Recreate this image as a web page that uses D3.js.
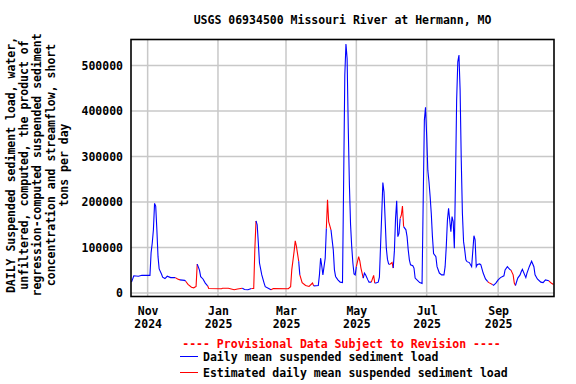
<!DOCTYPE html>
<html>
<head>
<meta charset="utf-8">
<script src="https://cdn.jsdelivr.net/npm/d3@7"></script>
<style>
  body { margin: 0; background: #fff; }
  text { font-family: "DejaVu Sans Mono", monospace; font-weight: bold; font-size: 11.5px; }
</style>
</head>
<body>
<div id="viz"></div>
<script>
// daily mean suspended sediment load, short tons per day
var dates = [
  "2024-10-18","2024-10-20","2024-10-24","2024-10-27","2024-11-03","2024-11-04","2024-11-05","2024-11-06",
  "2024-11-07","2024-11-08","2024-11-09","2024-11-10","2024-11-11","2024-11-13","2024-11-14","2024-11-16",
  "2024-11-18","2024-11-21","2024-11-25","2024-11-27","2024-11-29","2024-12-03","2024-12-04","2024-12-06",
  "2024-12-09","2024-12-11","2024-12-13","2024-12-14","2024-12-15","2024-12-16","2024-12-17","2024-12-19",
  "2024-12-21","2024-12-23","2024-12-24","2025-01-04","2025-01-05","2025-01-10","2025-01-15","2025-01-18",
  "2025-01-22","2025-01-23","2025-01-24","2025-01-27","2025-01-30","2025-02-01","2025-02-02","2025-02-03",
  "2025-02-04","2025-02-05","2025-02-06","2025-02-08","2025-02-10","2025-02-11","2025-02-14","2025-02-16",
  "2025-02-18","2025-03-03","2025-03-05","2025-03-06","2025-03-08","2025-03-09","2025-03-10","2025-03-12",
  "2025-03-13","2025-03-15","2025-03-18","2025-03-21","2025-03-24","2025-03-25","2025-03-29","2025-03-30",
  "2025-03-31","2025-04-01","2025-04-02","2025-04-04","2025-04-05","2025-04-06","2025-04-07","2025-04-09",
  "2025-04-10","2025-04-11","2025-04-12","2025-04-13","2025-04-15","2025-04-17","2025-04-19","2025-04-20",
  "2025-04-21","2025-04-22","2025-04-23","2025-04-24","2025-04-25","2025-04-26","2025-04-27","2025-04-28",
  "2025-04-29","2025-04-30","2025-05-01","2025-05-03","2025-05-04","2025-05-05","2025-05-07","2025-05-08",
  "2025-05-09","2025-05-11","2025-05-12","2025-05-14","2025-05-16","2025-05-17","2025-05-18","2025-05-20",
  "2025-05-21","2025-05-23","2025-05-24","2025-05-25","2025-05-26","2025-05-27","2025-05-28","2025-05-29",
  "2025-05-30","2025-06-01","2025-06-02","2025-06-03","2025-06-04","2025-06-05","2025-06-06","2025-06-07",
  "2025-06-08","2025-06-09","2025-06-10","2025-06-11","2025-06-13","2025-06-14","2025-06-15","2025-06-16",
  "2025-06-17","2025-06-19","2025-06-20","2025-06-21","2025-06-23","2025-06-25","2025-06-27","2025-06-28",
  "2025-06-29","2025-06-30","2025-07-01","2025-07-02","2025-07-03","2025-07-04","2025-07-05","2025-07-06",
  "2025-07-07","2025-07-09","2025-07-10","2025-07-12","2025-07-14","2025-07-16","2025-07-17","2025-07-18",
  "2025-07-19","2025-07-20","2025-07-21","2025-07-22","2025-07-23","2025-07-24","2025-07-25","2025-07-26",
  "2025-07-27","2025-07-28","2025-07-29","2025-07-30","2025-07-31","2025-08-01","2025-08-02","2025-08-03",
  "2025-08-04","2025-08-05","2025-08-07","2025-08-09","2025-08-11","2025-08-12","2025-08-13","2025-08-14",
  "2025-08-16","2025-08-17","2025-08-19","2025-08-21","2025-08-23","2025-08-24","2025-08-27","2025-08-28",
  "2025-08-30","2025-09-01","2025-09-03","2025-09-06","2025-09-07","2025-09-09","2025-09-11","2025-09-12",
  "2025-09-14","2025-09-15","2025-09-16","2025-09-18","2025-09-20","2025-09-21","2025-09-22","2025-09-25",
  "2025-09-26","2025-09-28","2025-09-30","2025-10-02","2025-10-03","2025-10-05","2025-10-08","2025-10-10",
  "2025-10-12","2025-10-15","2025-10-17","2025-10-19"
];
var loads = [
  24000, 38000, 37000, 39000, 39000, 89000, 110000, 139000,
  197000, 191000, 139000, 80000, 53000, 42000, 35000, 32000,
  37000, 34000, 34000, 31000, 29000, 28000, 26000, 19000,
  13000, 11600, 14600, 63600, 57000, 50000, 36000, 31000,
  22000, 16000, 10000, 9500, 10500, 10500, 7200, 9000,
  10500, 9500, 8000, 7200, 10000, 10000, 98700, 158500,
  150000, 110000, 66000, 40000, 22000, 14000, 10000, 7200,
  10000, 9500, 14000, 51000, 91000, 114700, 103000, 70000,
  40000, 23000, 16700, 14500, 22000, 15800, 16700, 40000,
  76700, 60000, 40000, 76700, 142500, 205000, 157000, 139000,
  117000, 95000, 51000, 36500, 29000, 24000, 23000, 248000,
  479000, 547000, 515000, 362000, 237000, 150000, 102000, 66000,
  42000, 40000, 58000, 80000, 71000, 55000, 33000, 44000,
  40000, 29000, 24000, 24000, 39000, 22000, 22000, 24000,
  35000, 171700, 243000, 222000, 160700, 98700, 74000, 64000,
  63000, 67000, 55000, 92700, 164000, 203000, 124000, 131000,
  164000, 171000, 191000, 146000, 139000, 124000, 95000, 73000,
  62000, 60000, 55000, 33000, 28000, 23000, 21000, 204600,
  380000, 408000, 347000, 270000, 244700, 212000, 175000, 124000,
  87000, 80000, 58000, 44000, 40000, 40000, 58000, 102000,
  160000, 186000, 160000, 135000, 168000, 157000, 98700, 248000,
  424000, 508000, 523000, 446000, 292000, 175000, 113000, 95000,
  73000, 69000, 67000, 58000, 126000, 117000, 58000, 63000,
  64000, 62000, 44000, 31000, 25000, 23000, 19000, 17000,
  22000, 29000, 34000, 38000, 51000, 58000, 52000, 51000,
  40000, 22000, 16700, 33000, 40000, 47000, 52000, 34000,
  44000, 58000, 70000, 58000, 40000, 31000, 24000, 23000,
  29000, 27000, 22000, 19000
];
// "e" = estimated value
var flags = [
  "","","","","","","","",
  "","","","","","","","",
  "","","","e","e","","","e",
  "e","e","e","e","","","","",
  "","","e","e","e","e","e","e",
  "e","","","","","e","e","e",
  "","","","","","","","",
  "e","e","e","e","e","e","e","e",
  "","e","e","e","e","e","","",
  "","","","","","e","e","e",
  "","","","","","","","",
  "","","","","","","","",
  "","","","e","e","e","e","",
  "","","","","e","e","","",
  "","","","","","","","",
  "","e","e","","","","","",
  "","e","e","e","","","","",
  "","","","","","","","",
  "","","","","","","","",
  "","","","","","","","",
  "","","","","","","","",
  "","","","","","","","",
  "","","","","","","","",
  "","","","","","e","e","",
  "","","","","","","","",
  "e","e","e","","","","","",
  "","","","","","","","",
  "","","e","e"
];
var yTicks = [0, 100000, 200000, 300000, 400000, 500000];
var xTicks = ["2024-11-01","2025-01-01","2025-03-01","2025-05-01","2025-07-01","2025-09-01"];
var yTitle = [
  "DAILY Suspended sediment load, water,",
  "unfiltered, computed, the product of",
  "regression-computed suspended sediment",
  "concentration and streamflow, short",
  "tons per day"
];

var parse = d3.timeParse("%Y-%m-%d");
var data = dates.map(function(d, i) {
  return {date: parse(d), value: loads[i], est: flags[i] === "e"};
});

var width = 576, height = 384;
var plot = {left: 131, right: 554, top: 39.5, bottom: 296.5};

var svg = d3.select("#viz").append("svg")
    .attr("width", width)
    .attr("height", height);

var xScale = d3.scaleTime()
    .domain([parse("2024-10-18"), parse("2025-10-19")])
    .range([131.5, 553.5]);

var yScale = d3.scaleLinear()
    .domain([-7500, 557000])
    .range([plot.bottom, plot.top]);

// grid
svg.append("g")
  .selectAll("line")
  .data(yTicks)
  .enter().append("line")
    .attr("x1", plot.left).attr("x2", plot.right)
    .attr("y1", function(d) { return yScale(d); })
    .attr("y2", function(d) { return yScale(d); })
    .attr("stroke", "#c8c8c8")
    .attr("stroke-width", 1.5);

svg.append("g")
  .selectAll("line")
  .data(xTicks)
  .enter().append("line")
    .attr("x1", function(d) { return xScale(parse(d)); })
    .attr("x2", function(d) { return xScale(parse(d)); })
    .attr("y1", plot.top).attr("y2", plot.bottom)
    .attr("stroke", "#c8c8c8")
    .attr("stroke-width", 1.5);

// y axis labels
var yAxis = d3.axisLeft(yScale)
    .tickValues(yTicks)
    .tickFormat(d3.format("d"))
    .tickSize(0)
    .tickPadding(8);

svg.append("g")
    .attr("transform", "translate(" + plot.left + ",0)")
    .call(yAxis)
    .call(function(g) { g.select(".domain").remove(); })
    .selectAll("text")
    .attr("fill", "#000");

// x axis labels (two lines)
var xAxis = d3.axisBottom(xScale)
    .tickValues(xTicks.map(parse))
    .tickFormat(d3.timeFormat("%b"))
    .tickSize(0)
    .tickPadding(10);

var xg = svg.append("g")
    .attr("transform", "translate(0," + plot.bottom + ")")
    .call(xAxis)
    .call(function(g) { g.select(".domain").remove(); });

xg.selectAll(".tick text")
    .attr("fill", "#000")
    .each(function(d) {
      d3.select(this).append("tspan")
        .attr("x", 0)
        .attr("dy", "1.15em")
        .text(d3.timeFormat("%Y")(d));
    });

svg.selectAll("g").attr("font-size", null).attr("font-family", null);

// data line, coloured per segment
var lineFunc = d3.line()
  .x(function(d) { return xScale(d.date); })
  .y(function(d) { return yScale(d.value); });

var runs = [];
for (var i = 1; i < data.length; i++) {
  var c = data[i].est ? "#ff0000" : "#0000ff";
  var last = runs[runs.length - 1];
  if (last && last.color === c) {
    last.pts.push(data[i]);
  } else {
    runs.push({color: c, pts: [data[i - 1], data[i]]});
  }
}

svg.append("g")
  .selectAll("path")
  .data(runs)
  .enter().append("path")
    .attr("d", function(r) { return lineFunc(r.pts); })
    .attr("fill", "none")
    .attr("stroke", function(r) { return r.color; })
    .attr("stroke-width", 1.1);

// frame
svg.append("rect")
    .attr("x", plot.left).attr("y", plot.top)
    .attr("width", plot.right - plot.left).attr("height", plot.bottom - plot.top)
    .attr("fill", "none")
    .attr("stroke", "#000")
    .attr("stroke-width", 1.6);

// title
svg.append("text")
    .attr("x", (plot.left + plot.right) / 2)
    .attr("y", 24)
    .attr("text-anchor", "middle")
    .text("USGS 06934500 Missouri River at Hermann, MO");

// y title
svg.append("g")
  .selectAll("text")
  .data(yTitle)
  .enter().append("text")
    .attr("transform", function(d, i) {
      return "translate(" + (10.7 + i * 13.3) + ",165) rotate(-90)";
    })
    .attr("text-anchor", "middle")
    .attr("dy", "0.35em")
    .text(function(d) { return d; });

// legend
svg.append("text")
    .attr("x", 341.5)
    .attr("y", 347.5)
    .attr("text-anchor", "middle")
    .attr("fill", "#ff0000")
    .text("---- Provisional Data Subject to Revision ----");

var legend = [
  {label: "Daily mean suspended sediment load", color: "#0000ff"},
  {label: "Estimated daily mean suspended sediment load", color: "#ff0000"}
];

var lg = svg.append("g")
  .selectAll("g")
  .data(legend)
  .enter().append("g")
    .attr("transform", function(d, i) { return "translate(180," + (356.5 + i * 16) + ")"; });

lg.append("line")
    .attr("x1", 0).attr("x2", 18)
    .attr("stroke", function(d) { return d.color; })
    .attr("stroke-width", 1.1)
    .attr("shape-rendering", "crispEdges");

lg.append("text")
    .attr("x", 23)
    .attr("y", 4.5)
    .text(function(d) { return d.label; });
</script>
</body>
</html>
